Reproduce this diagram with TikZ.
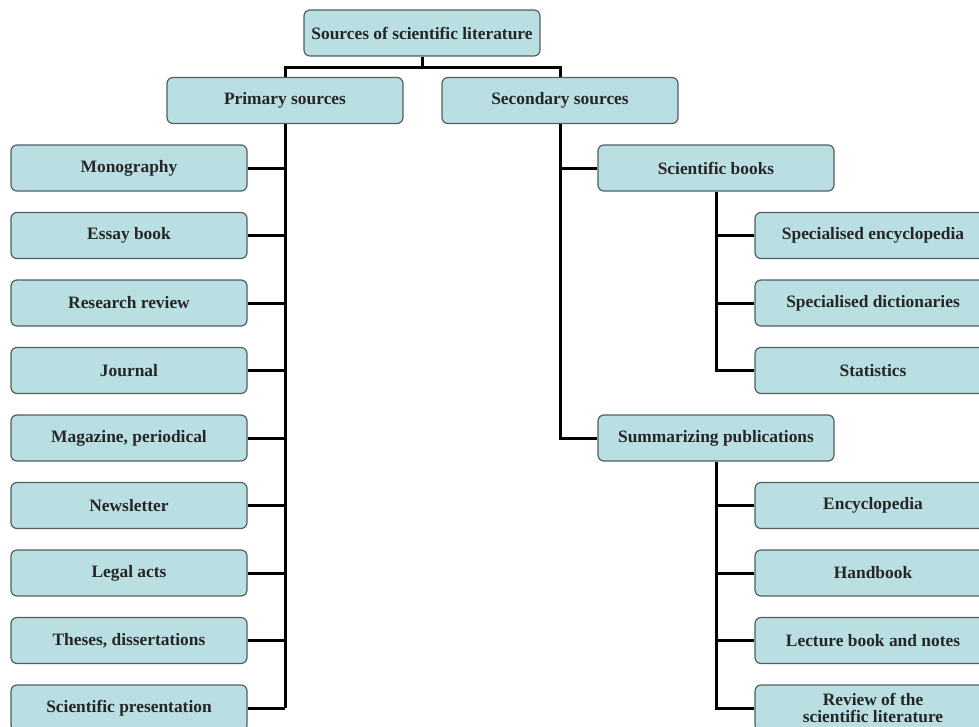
\documentclass[tikz,border=0pt]{standalone}
\usepackage{fontspec}
\setmainfont{Liberation Serif}
\definecolor{boxfill}{RGB}{186,223,227}
\definecolor{boxline}{RGB}{80,95,95}
\begin{document}
\begin{tikzpicture}[x=1pt,y=-1pt,
  box/.style={draw=boxline, line width=1.2pt, fill=boxfill, rounded corners=6pt,
    minimum width=236pt, minimum height=46pt, inner sep=0pt, align=center,
    font=\fontsize{17.4}{17}\selectfont\bfseries, text=black!85},
  conn/.style={line width=3pt, black}]
\useasboundingbox (0,0) rectangle (979,726);
\clip (0,0) rectangle (979,726);
% nodes
\node[box] (top) at (422,33) {Sources of scientific literature};
\node[box] (prim) at (285,100.5) {Primary sources};
\node[box] (sec) at (560,100.5) {Secondary sources};
\node[box] (mono) at (129,168) {Monography};
\node[box] (essay) at (129,235.5) {Essay book};
\node[box] (rr) at (129,303) {Research review};
\node[box] (jour) at (129,370.5) {Journal};
\node[box] (mag) at (129,438) {Magazine, periodical};
\node[box] (news) at (129,505.5) {Newsletter};
\node[box] (legal) at (129,573) {Legal acts};
\node[box] (thes) at (129,640.5) {Theses, dissertations};
\node[box] (pres) at (129,708) {Scientific presentation};
\node[box] (sb) at (716,168) {Scientific books};
\node[box] (sum) at (716,438) {Summarizing publications};
\node[box] (senc) at (873,235.5) {Specialised encyclopedia};
\node[box] (sdic) at (873,303) {Specialised dictionaries};
\node[box] (stat) at (873,370.5) {Statistics};
\node[box] (enc) at (873,505.5) {Encyclopedia};
\node[box] (hand) at (873,573) {Handbook};
\node[box] (lect) at (873,640.5) {Lecture book and notes};
\node[box] (rev) at (873,708) {Review of the\\scientific literature};
% connectors
\coordinate (j) at (422,67);
\draw[conn] (top.south) -- (j);
\draw[conn] (prim.north) |- (j) -| (sec.north);
\draw[conn] (prim.south) -- (prim.south |- pres.east);
\foreach \n in {mono,essay,rr,jour,mag,news,legal,thes,pres}
  \draw[conn] (\n.east) -- (\n.east -| prim.south);
\draw[conn] (sec.south) |- (sum.west);
\draw[conn] (sb.west) -- (sb.west -| sec.south);
\draw[conn] (sb.south) |- (stat.west);
\foreach \n in {senc,sdic}
  \draw[conn] (\n.west) -- (\n.west -| sb.south);
\draw[conn] (sum.south) |- (rev.west);
\foreach \n in {enc,hand,lect}
  \draw[conn] (\n.west) -- (\n.west -| sum.south);
\end{tikzpicture}
\end{document}
